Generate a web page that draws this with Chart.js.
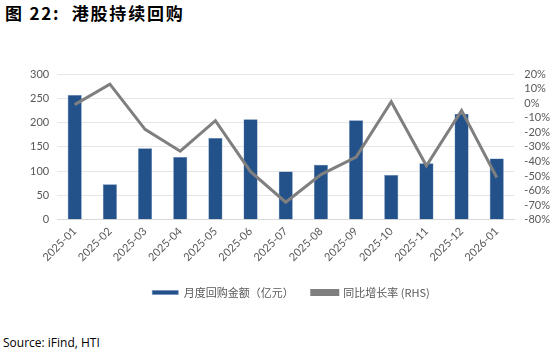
<!DOCTYPE html>
<html lang="zh">
<head>
  <meta charset="UTF-8">
  <title>港股持续回购</title>
  <script src="https://cdn.jsdelivr.net/npm/chart.js"></script>
  <style>
    body { margin: 0; background: #fff; width: 550px; height: 353px; position: relative; overflow: hidden; }
    #title { position: absolute; left: 5px; top: 0px; font: bold 17px "Noto Sans CJK SC", sans-serif; color: #000; letter-spacing: 1.8px; }
    #source { position: absolute; left: 3px; top: 334px; font: 12px "Open Sans", sans-serif; color: #000; }
    #wrap { position: absolute; left: 0; top: 40px; width: 562px; height: 268px; }
  </style>
</head>
<body>
  <div id="title">图 22:&nbsp; 港股持续回购</div>
  <div id="wrap"><canvas id="buybackChart"></canvas></div>
  <div id="source">Source: iFind, HTI</div>

  <script>
    const months = ['2025-01', '2025-02', '2025-03', '2025-04', '2025-05', '2025-06', '2025-07',
                    '2025-08', '2025-09', '2025-10', '2025-11', '2025-12', '2026-01'];
    const buybackAmount = [257, 73, 147, 129, 168, 207, 99, 113, 205, 92, 116, 218, 126];
    const yoyGrowth = [-1, 13, -18, -33, -12, -47, -68, -49, -37, 1, -43, -5, -51];

    const tickFont = { family: 'Lato, "Open Sans", sans-serif', size: 11 };
    const tickColor = '#595959';

    const ctx = document.getElementById('buybackChart').getContext('2d');
    new Chart(ctx, {
      data: {
        labels: months,
        datasets: [
          {
            type: 'line',
            label: '同比增长率 (RHS)',
            data: yoyGrowth,
            yAxisID: 'y1',
            borderColor: '#7f7f7f',
            backgroundColor: '#7f7f7f',
            borderWidth: 3,
            pointRadius: 0,
            tension: 0,
            order: 0
          },
          {
            type: 'bar',
            label: '月度回购金额（亿元）',
            data: buybackAmount,
            yAxisID: 'y',
            backgroundColor: '#23528a',
            borderColor: '#5b7fb0',
            borderWidth: 0.5,
            barPercentage: 0.5,
            categoryPercentage: 0.8,
            order: 1
          }
        ]
      },
      options: {
        responsive: true,
        maintainAspectRatio: false,
        animation: false,
        layout: { padding: { top: 34, left: 22, right: 2, bottom: 0 } },
        scales: {
          x: {
            grid: { display: false, drawTicks: false },
            border: { color: '#d9d9d9', width: 1 },
            ticks: { color: tickColor, font: tickFont, maxRotation: 45, minRotation: 45, padding: 5 }
          },
          y: {
            position: 'left',
            min: 0,
            max: 300,
            ticks: { stepSize: 50, color: tickColor, font: tickFont, padding: 8 },
            grid: { color: '#e6e6e6', drawTicks: false },
            border: { display: false }
          },
          y1: {
            position: 'right',
            min: -80,
            max: 20,
            ticks: { stepSize: 10, autoSkip: false, color: tickColor, font: tickFont, padding: 10, callback: v => v + '%' },
            grid: { display: false, drawTicks: false },
            border: { display: false }
          }
        },
        plugins: {
          legend: {
            position: 'bottom',
            reverse: true,
            labels: {
              boxWidth: 26,
              boxHeight: 4,
              padding: 18,
              color: '#595959',
              font: { family: '"Noto Sans CJK SC", sans-serif', size: 11 }
            }
          },
          tooltip: { enabled: false }
        }
      }
    });
  </script>
</body>
</html>
